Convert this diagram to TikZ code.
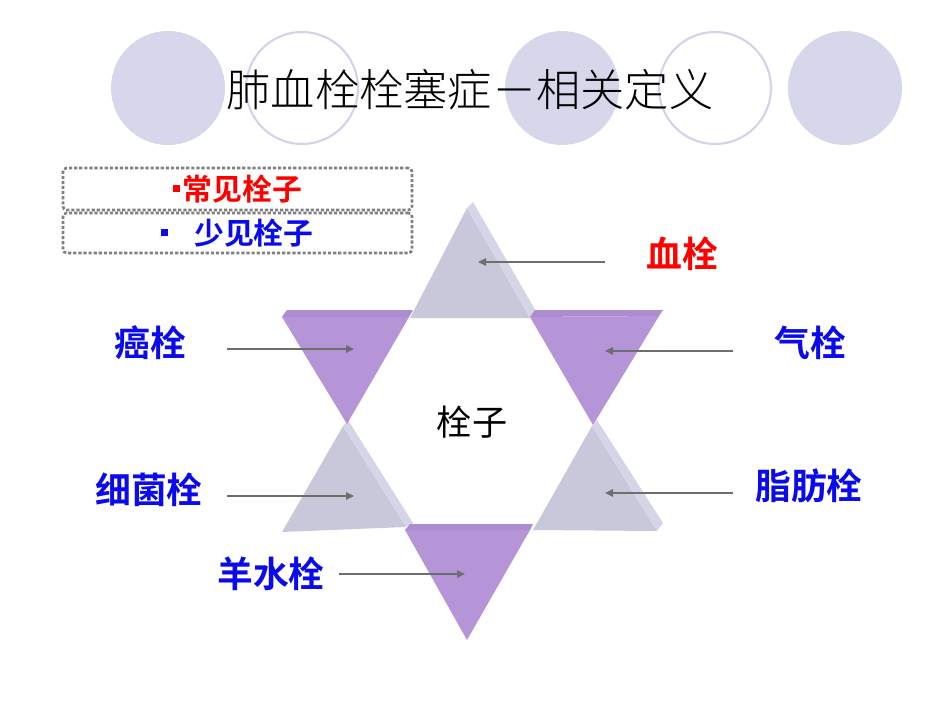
\documentclass[tikz,border=0pt]{standalone}
\usepackage{fontspec}
\newfontfamily\cjk{Noto Sans CJK SC}[BoldFont={Noto Sans CJK SC Bold}]
\newfontfamily\cjklight{Noto Sans CJK SC Light}
\usepackage{xcolor}
\definecolor{cDisc}{HTML}{D7D7EB}
\definecolor{cRing}{HTML}{D2D2EA}
\definecolor{cTriGray}{HTML}{C8C8DA}
\definecolor{cTriGrayLite}{HTML}{D5D5E8}
\definecolor{cTriPurple}{HTML}{B594D8}
\definecolor{cTriPurpleDark}{HTML}{AB8ED0}
\definecolor{cRed}{HTML}{FF0000}
\definecolor{cBlue}{HTML}{0A0AEB}
\definecolor{cArrow}{HTML}{6E6E6E}
\definecolor{cDash}{HTML}{808080}
\usepackage{tikz}
\usetikzlibrary{positioning,arrows.meta}
\tikzset{
  deco-disc/.style={fill=cDisc},
  deco-ring/.style={draw=cRing,line width=1.2pt},
  legend-box/.style={draw=cDash,line width=1.5pt,dash pattern=on 1.8pt off 1.1pt,
    rounded corners=2pt,minimum width=6.98cm,inner sep=0pt,
    font=\cjk\bfseries\fontsize{17}{20}\selectfont},
  tri-gray/.style={fill=cTriGray},
  tri-gray-bevel/.style={fill=cTriGrayLite},
  tri-purple/.style={fill=cTriPurple},
  tri-purple-bevel/.style={fill=cTriPurpleDark},
  label-red/.style={text=cRed,font=\cjk\bfseries\fontsize{20.4}{24}\selectfont},
  label-blue/.style={text=cBlue,font=\cjk\bfseries\fontsize{20.4}{24}\selectfont},
  arrow/.style={-{Triangle[length=1.6mm,width=1.5mm]},line width=0.75pt,draw=cArrow},
}
\newcommand{\sqbullet}{\raisebox{0.28em}{\rule{1.4mm}{1.4mm}}}
\begin{document}
\begin{tikzpicture}[x=0.02cm,y=-0.02cm]
  \useasboundingbox (0,0) rectangle (950,713);
  % circles behind the title
  \foreach \cx in {168,562,845}
    \fill[deco-disc] (\cx,88) circle (57);
  \foreach \cx in {302,715}
    \draw[deco-ring] (\cx,88) circle (56);
  \node[font=\cjklight\fontsize{25.2}{30}\selectfont] (title) at (470,90) {肺血栓栓塞症－相关定义};

  % legend
  \node[legend-box,minimum height=0.84cm,text=cRed] (common) at (237.5,189)
    {\sqbullet\hspace{0.6mm}常见栓子};
  \node[legend-box,minimum height=0.8cm,text=cBlue] (rare) at (237.5,233)
    {\sqbullet\hspace{5.2mm}少见栓子};

  % star: gray triangles
  \fill[tri-gray] (467,208) -- (410,318) -- (530,318) -- cycle;
  \fill[tri-gray-bevel] (467,208) -- (473,202) -- (537,313) -- (530,318) -- cycle;
  \fill[tri-gray] (343,426) -- (282,532) -- (406,527) -- cycle;
  \fill[tri-gray-bevel] (343,426) -- (348,420) -- (413,523) -- (406,527) -- cycle;
  \fill[tri-gray] (592,426) -- (533,530) -- (657,531) -- cycle;
  \fill[tri-gray-bevel] (592,426) -- (597,420) -- (663,523) -- (657,531) -- cycle;
  % star: purple triangles
  \fill[tri-purple] (282,317) -- (409,317) -- (347,424) -- cycle;
  \fill[tri-purple-bevel] (282,317) -- (287,310) -- (413,310) -- (409,317) -- cycle;
  \fill[tri-purple] (530,317) -- (659,316) -- (593,425) -- cycle;
  \fill[tri-purple-bevel] (530,317) -- (535,310) -- (663,310) -- (659,316) -- cycle;
  \fill[tri-purple] (405,530) -- (530,530) -- (467,640) -- cycle;
  \fill[tri-purple-bevel] (405,530) -- (410,524) -- (533,524) -- (530,530) -- cycle;

  \node[font=\cjk\fontsize{20}{24}\selectfont] (core) at (472,422) {栓子};

  % labels
  \node[label-red] (xue) at (682,254) {血栓};
  \node[label-blue] (ai) at (150,343) {癌栓};
  \node[label-blue] (qi) at (810,343) {气栓};
  \node[label-blue] (xijun) at (149,490) {细菌栓};
  \node[label-blue] (zhifang) at (809,486) {脂肪栓};
  \node[label-blue] (yangshui) at (271,574) {羊水栓};

  % arrows into the triangles
  \coordinate (xue-tail) at (605,262);     \coordinate (xue-head) at (478,262);
  \coordinate (ai-tail) at (227,349);      \coordinate (ai-head) at (354,349);
  \coordinate (qi-tail) at (733,351);      \coordinate (qi-head) at (605,351);
  \coordinate (xijun-tail) at (227,496);   \coordinate (xijun-head) at (354,496);
  \coordinate (zhifang-tail) at (733,493); \coordinate (zhifang-head) at (605,493);
  \coordinate (yangshui-tail) at (339,574);\coordinate (yangshui-head) at (465,574);
  \foreach \n in {xue,ai,qi,xijun,zhifang,yangshui}
    \draw[arrow] (\n-tail) -- (\n-head);
\end{tikzpicture}
\end{document}
